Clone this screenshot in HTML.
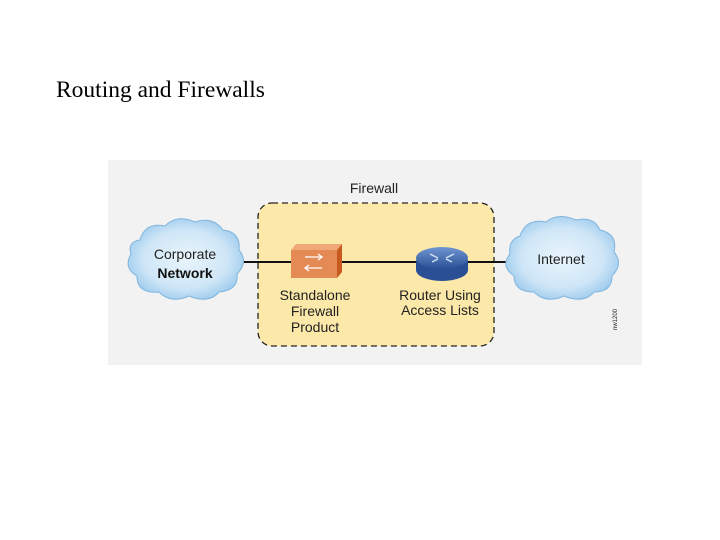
<!DOCTYPE html>
<html><head><style>
body{margin:0;width:720px;height:540px;background:#fff;overflow:hidden;position:relative}
.t{position:absolute;left:56px;top:77px;font:23.5px "Liberation Serif",serif;color:#000}
</style></head><body>
<div class="t">Routing and Firewalls</div>
<svg width="720" height="540" style="position:absolute;left:0;top:0">
<defs>
<radialGradient id="cl" cx="50%" cy="50%" r="60%"><stop offset="0" stop-color="#eaf5fc"/><stop offset="0.6" stop-color="#cfe6f7"/><stop offset="1" stop-color="#8fc3ea"/></radialGradient>
<linearGradient id="rt" x1="0" y1="0" x2="0" y2="1"><stop offset="0" stop-color="#6f95d0"/><stop offset="1" stop-color="#2b4f95"/></linearGradient>
</defs>
<rect x="108" y="160" width="534" height="205" fill="#f2f2f2"/>
<rect x="258" y="203" width="236" height="143" rx="14" fill="#fce8a8" stroke="#222" stroke-width="1.3" stroke-dasharray="6,4"/>
<text x="374" y="193" font-family="Liberation Sans,sans-serif" font-size="14" text-anchor="middle" fill="#222">Firewall</text>
<line x1="238" y1="262" x2="518" y2="262" stroke="#111" stroke-width="2"/>
<g fill="url(#cl)" stroke="#7fb5de" stroke-width="1">
<path d="M140,240 q5,-18 25,-14 q12,-12 30,-4 q18,-6 28,8 q18,2 16,20 q10,12 -2,24 q2,16 -18,18 q-10,12 -30,4 q-18,8 -30,-4 q-22,2 -22,-16 q-14,-8 -6,-22 q-4,-12 9,-14z"/>
<path d="M520,236 q6,-18 26,-14 q12,-10 30,-2 q18,-4 24,10 q18,4 14,22 q10,12 -2,24 q0,16 -18,16 q-10,12 -30,4 q-18,8 -30,-4 q-20,0 -20,-16 q-14,-10 -4,-22 q-2,-14 10,-18z"/>
</g>
<text x="185" y="259" font-family="Liberation Sans,sans-serif" font-size="14" text-anchor="middle" fill="#222">Corporate</text>
<text x="185" y="278" font-family="Liberation Sans,sans-serif" font-size="14" text-anchor="middle" fill="#111" font-weight="bold">Network</text>
<text x="561" y="264" font-family="Liberation Sans,sans-serif" font-size="14" text-anchor="middle" fill="#222">Internet</text>
<polygon points="291,250 296,244 342,244 337,250" fill="#f0a878"/>
<polygon points="337,250 342,244 342,272 337,278" fill="#c85a20"/>
<rect x="291" y="250" width="46" height="28" fill="#e48a55"/>
<path d="M305,257 h17 m-4,-3 l4,3 -4,3 M322,268 h-17 m4,-3 l-4,3 4,3" stroke="#fff" stroke-width="1.3" fill="none"/>
<path d="M416,260 v10 a26,11 0 0 0 52,0 v-10z" fill="#2b4f95"/>
<ellipse cx="442" cy="258" rx="26" ry="11" fill="url(#rt)"/>
<path d="M430,254 l8,4 M454,254 l-8,4 M432,262 l6,-3 M452,262 l-6,-3" stroke="#cfe0f5" stroke-width="1.5"/>
<g font-family="Liberation Sans,sans-serif" font-size="14" text-anchor="middle" fill="#222">
<text x="315" y="300">Standalone</text><text x="315" y="316">Firewall</text><text x="315" y="332">Product</text>
<text x="440" y="300">Router Using</text><text x="440" y="315">Access Lists</text>
</g>
<text transform="translate(617,330) rotate(-90)" font-family="Liberation Sans,sans-serif" font-size="6" fill="#222">nw1200</text>
</svg>
</body></html>
